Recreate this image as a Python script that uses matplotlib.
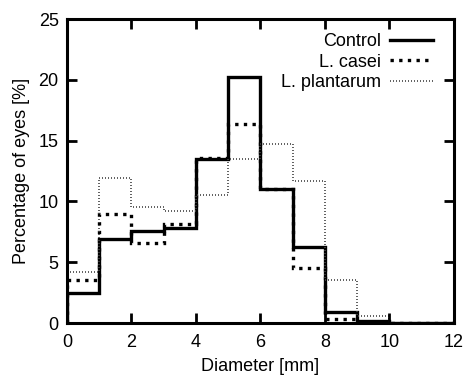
import numpy as np
import matplotlib.pyplot as plt

plt.rcParams['font.family'] = ['Liberation Sans', 'DejaVu Sans']

edges = np.arange(0, 13, 1)
control = [2.5, 6.9, 7.55, 7.85, 13.5, 20.2, 11.0, 6.25, 0.9, 0.15, 0, 0]
casei = [3.5, 9.0, 6.6, 8.15, 13.6, 16.4, 11.0, 4.5, 0.35, 0, 0, 0]
plantarum = [4.2, 11.9, 9.55, 9.2, 10.5, 13.5, 14.75, 11.65, 3.55, 0.55, 0, 0]

fig = plt.figure(figsize=(4.64, 3.78), dpi=100)
ax = fig.add_axes([0.1444, 0.1455, 0.8336, 0.8042])

ax.stairs(control, edges, baseline=0, color='black', lw=2.4, label='Control')
ax.stairs(casei, edges, baseline=0, color='black', lw=2.4, linestyle=(0, (1, 1.6)), label='L. casei')
ax.stairs(plantarum, edges, baseline=0, color='#444444', lw=1.2, linestyle=(0, (0.6, 1.2)), label='L. plantarum')

ax.set_xlim(0, 12)
ax.set_ylim(0, 25)
ax.set_xticks(range(0, 13, 2))
ax.set_yticks(range(0, 26, 5))
ax.tick_params(direction='in', length=7, width=2, top=True, right=True, labelsize=13)
ax.tick_params(axis='x', pad=8)
ax.tick_params(axis='y', pad=6)
for s in ax.spines.values():
    s.set_linewidth(2.2)
ax.set_xlabel('Diameter [mm]', fontsize=13, labelpad=5)
ax.set_ylabel('Percentage of eyes [%]', fontsize=13, labelpad=6)

leg = ax.legend(loc='upper right', bbox_to_anchor=(0.98, 0.995), frameon=False,
                markerfirst=False, fontsize=13, handlelength=2.4, labelspacing=0.2,
                borderaxespad=0.3, handletextpad=0.5)

fig.savefig('out.png', dpi=100)
